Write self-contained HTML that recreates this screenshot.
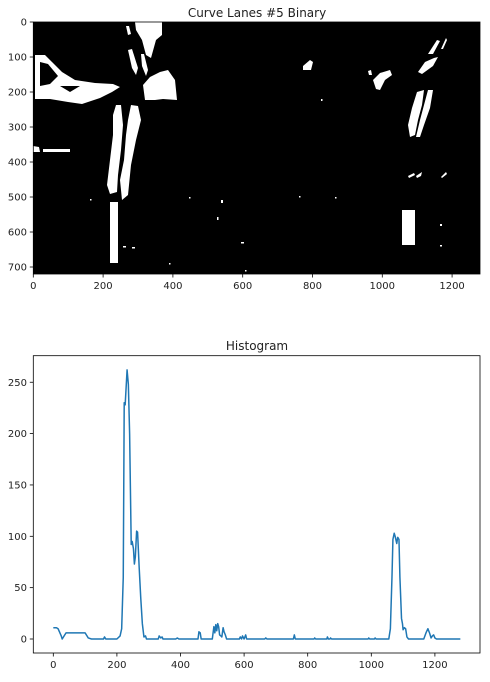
<!DOCTYPE html>
<html><head><meta charset="utf-8"><style>
body{margin:0;background:#fff;width:490px;height:677px;overflow:hidden;font-family:"Liberation Sans","DejaVu Sans",sans-serif}
svg text{font-family:"DejaVu Sans","Liberation Sans",sans-serif;fill:#222}
</style></head><body>
<svg id="fig" width="490" height="677" viewBox="0 0 490 677">
<g>
<text x="257" y="17" text-anchor="middle" font-size="12">Curve Lanes #5 Binary</text>
<rect x="33.3" y="22" width="446.7" height="252" fill="#000"/>
<g fill="#fff">
<polygon points="35,55 45,55 52,62 62,72 75,80 95,83 113,84 120,87 112,92 100,98 82,104 68,102 50,99 35,99"/>
<polygon points="135,22 162,22 162,35 156,40 151,58 146,55 142,40 136,30"/>
<polygon points="126,26 129,26 131,34 128,35"/>
<polygon points="128,50 132,49 138,68 136,75 132,68"/>
<polygon points="141,54 144,54 148,70 146,76 142,66"/>
<polygon points="143,85 150,77 160,72 168,70 175,80 177,100 163,99 155,100 145,100"/>
<polygon points="116,105 121,105 123,125 121,150 118,175 117,192 110,194 107,185 110,160 113,135 113,115"/>
<polygon points="131,105 138,106 141,120 136,140 131,165 128,195 122,200 120,180 124,160 126,135 128,120"/>
<polygon points="110,202 118,202 118,230 118,263 110,263 110,230"/>
<polygon points="43,149 70,149 70,152 43,152"/>
<polygon points="33,146 39,147 40,152 33,152"/>
<polygon points="428,54 437,40 440,41 433,54"/>
<polygon points="441,49 446,38 447,40 443,49"/>
<polygon points="418,72 425,62 434,58 438,57 433,66 422,74"/>
<polygon points="373,80 380,73 390,70 392,75 385,80 380,90 376,89"/>
<polygon points="368,71 371,70 372,75 369,75"/>
<polygon points="303,66 310,60 313,62 311,70 303,70"/>
<polygon points="417,92 424,90 422,105 418,120 415,135 410,137 408,125 412,108"/>
<polygon points="428,90 433,90 430,108 424,125 420,137 416,137 420,120 424,105"/>
<polygon points="402,210 415,210 415,245 402,245"/>
<polygon points="408,176 414,173 415,175 409,178"/><polygon points="416,176 422,172 421,176 417,178"/><polygon points="441,177 446,172 447,174 442,178"/>
<rect x="90" y="199" width="1.5" height="1.5"/><rect x="189" y="197" width="1.5" height="1.5"/><rect x="221" y="200" width="2" height="3"/><rect x="217" y="217" width="1.5" height="3"/><rect x="241" y="242" width="3" height="1.5"/><rect x="245" y="270" width="1.5" height="1.5"/><rect x="299" y="196" width="1.5" height="1.5"/><rect x="335" y="197" width="1.5" height="1.5"/><rect x="321" y="99" width="1.5" height="2"/><rect x="440" y="224" width="2" height="2"/><rect x="440" y="245" width="2" height="1.5"/><rect x="123" y="246" width="3" height="1.5"/><rect x="132" y="247" width="3" height="1.5"/><rect x="169" y="263" width="1.5" height="1.5"/>
</g>
<g fill="#000">
<polygon points="40,62 48,64 58,76 50,84 40,86"/>
<polygon points="60,86 80,86 70,92"/>
</g>
<rect x="33.3" y="22" width="446.7" height="252" fill="none" stroke="#000" stroke-width="0.8"/>
<g id="imgx"></g>
<g id="imgy"></g>
</g>
<g>
<text x="257" y="350" text-anchor="middle" font-size="12">Histogram</text>
<rect x="33.3" y="355.7" width="446.7" height="297.3" fill="none" stroke="#000" stroke-width="0.8"/>
<g id="hx"></g>
<g id="hy"></g>
<path id="hline" fill="none" stroke="#1f77b4" stroke-width="1.5" stroke-linejoin="round"/>
</g>
</svg>
<script>
const imgXTicks=[0,200,400,600,800,1000,1200];
const imgYTicks=[0,100,200,300,400,500,600,700];
const histXTicks=[0,200,400,600,800,1000,1200];
const histYTicks=[0,50,100,150,200,250];
const histX=[0,10,15,25,28,40,100,110,120,158,161,165,200,210,215,220,223,226,232,236,240,245,248,252,255,258,262,265,270,275,280,285,290,293,330,333,338,342,345,385,390,395,455,458,462,465,500,505,508,511,514,517,520,523,527,530,534,537,541,545,585,588,592,595,600,605,608,665,668,672,755,758,761,820,822,825,860,862,865,870,872,875,990,992,995,1010,1012,1015,1055,1060,1065,1068,1072,1075,1080,1083,1087,1090,1095,1098,1100,1104,1108,1112,1117,1165,1172,1178,1183,1188,1192,1196,1200,1205,1280];
const histY=[11,11,10,3,0,6,6,1,0,0,2,0,0,3,10,60,230,228,262,248,200,92,95,88,73,80,105,104,70,40,15,2,3,0,0,3,1,2,0,0,1,0,0,7,6,0,0,12,6,14,8,15,12,4,3,2,11,7,4,0,0,2,0,3,0,4,0,0,1,0,0,4,0,0,1,0,0,2,0,0,1,0,0,1,0,0,1,0,0,10,60,97,103,100,93,99,97,60,20,15,9,11,10,2,0,0,6,10,6,1,3,4,1,0,0];
const NS='http://www.w3.org/2000/svg';
const ix=v=>33.3+(v+0.5)*446.7/1280, iy=v=>22+(v+0.5)*252/720;
const hx=v=>53.3+v*0.318, hy=v=>639-v*1.027;
function mk(tag,attrs,parent){const e=document.createElementNS(NS,tag);for(const k in attrs)e.setAttribute(k,attrs[k]);parent.appendChild(e);return e;}
const gix=document.getElementById('imgx'),giy=document.getElementById('imgy'),ghx=document.getElementById('hx'),ghy=document.getElementById('hy');
imgXTicks.forEach(t=>{const x=ix(t)-0.17;
 const l=mk('line',{x1:x,x2:x,y1:274,y2:277.5,stroke:'#000','stroke-width':0.8},gix);
 
 
 const s=mk('text',{x:x,y:289,'text-anchor':'middle','font-size':10},gix);s.textContent=t;
 
 });
imgYTicks.forEach(t=>{const y=iy(t)-0.17;
 const l=mk('line',{x1:29.8,x2:33.3,y1:y,y2:y,stroke:'#000','stroke-width':0.8},giy);
 
 
 const s=mk('text',{x:27,y:y+3.5,'text-anchor':'end','font-size':10},giy);s.textContent=t;
 
 });
histXTicks.forEach(t=>{const x=hx(t);
 const l=mk('line',{x1:x,x2:x,y1:653,y2:656.5,stroke:'#000','stroke-width':0.8},ghx);
 
 
 const s=mk('text',{x:x,y:668,'text-anchor':'middle','font-size':10},ghx);s.textContent=t;
 
 });
histYTicks.forEach(t=>{const y=hy(t);
 const l=mk('line',{x1:29.8,x2:33.3,y1:y,y2:y,stroke:'#000','stroke-width':0.8},ghy);
 
 
 const s=mk('text',{x:27,y:y+3.5,'text-anchor':'end','font-size':10},ghy);s.textContent=t;
 
 });
document.getElementById('hline').setAttribute('d',histX.map((x,i)=>(i?'L':'M')+hx(x).toFixed(2)+','+hy(histY[i]).toFixed(2)).join(''));
</script>
</body></html>
